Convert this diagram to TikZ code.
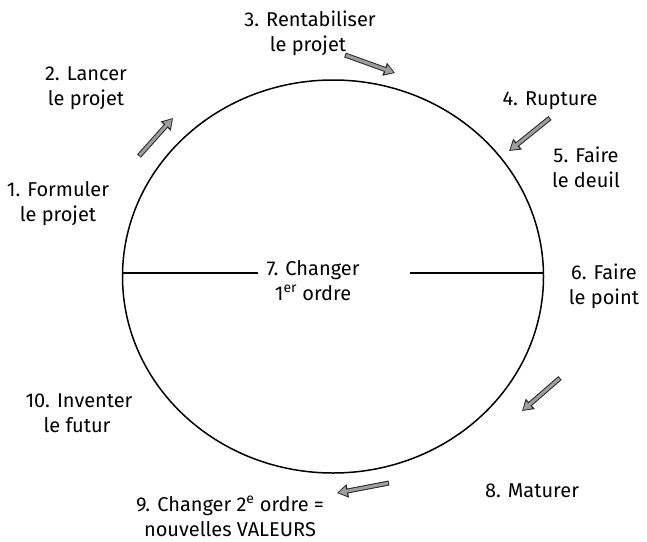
\documentclass[tikz,border=0pt]{standalone}
\usepackage{fontspec}
\setmainfont{Fira Sans}
\usetikzlibrary{arrows.meta}
\tikzset{
  lbl/.style={anchor=base, font=\fontsize{20}{26}\selectfont, inner sep=0pt},
  ring/.style={line width=1.5pt, black},
  axis/.style={line width=1.5pt, black},
  arrowout/.style={line width=5pt, black!85, -{Triangle[length=11pt,width=13pt]}},
  arrowin/.style={line width=3pt, black!38, shorten <=1pt, shorten >=1.6pt,
    -{Triangle[length=8pt,width=9pt]}}
}
\newcommand{\grayarrow}[2]{%
  \draw[arrowout] (#1) -- (#2);
  \draw[arrowin] (#1) -- (#2);}
\begin{document}
\begin{tikzpicture}[x=1pt,y=-1pt]
\useasboundingbox (0,0) rectangle (647,541);
% circle
\draw[ring] (333,276.5) ellipse [x radius=210.5pt, y radius=196.5pt];
\coordinate (L) at (122.5,273);
\coordinate (R) at (543.5,273);
\coordinate (Lin) at (258,273);
\coordinate (Rin) at (410,273);
\draw[axis] (L) -- (Lin);
\draw[axis] (Rin) -- (R);
\node[lbl] (n7a) at (313,275) {7. Changer};
\node[lbl] (n7b) at (313,300) {1\textsuperscript{er} ordre};
% labels
\node[lbl] (n1a) at (58,196) {1. Formuler};
\node[lbl] (n1b) at (58,221) {le projet};
\node[lbl] (n2a) at (86,80) {2. Lancer};
\node[lbl] (n2b) at (86,105) {le projet};
\node[lbl] (n3a) at (310,26) {3. Rentabiliser};
\node[lbl] (n3b) at (308,51) {le projet};
\node[lbl] (n4) at (550,105) {4. Rupture};
\node[lbl] (n5a) at (586,162) {5. Faire};
\node[lbl] (n5b) at (586,187) {le deuil};
\node[lbl] (n6a) at (604,279) {6. Faire};
\node[lbl] (n6b) at (604,304) {le point};
\node[lbl] (n8) at (532,497) {8. Maturer};
\node[lbl] (n9a) at (230,511) {9. Changer 2\textsuperscript{e} ordre =};
\node[lbl] (n9b) at (230,536) {nouvelles VALEURS};
\node[lbl] (n10a) at (79,407) {10. Inventer};
\node[lbl] (n10b) at (77,432) {le futur};
% arrows
\coordinate (a2s) at (139,156); \coordinate (a2e) at (173,118);
\coordinate (a3s) at (345,55);  \coordinate (a3e) at (395,73);
\coordinate (a4s) at (550,118); \coordinate (a4e) at (509,151);
\coordinate (a8s) at (560,378); \coordinate (a8e) at (522,411);
\coordinate (a9s) at (389,483); \coordinate (a9e) at (337,493);
\grayarrow{a2s}{a2e}
\grayarrow{a3s}{a3e}
\grayarrow{a4s}{a4e}
\grayarrow{a8s}{a8e}
\grayarrow{a9s}{a9e}
\end{tikzpicture}
\end{document}
